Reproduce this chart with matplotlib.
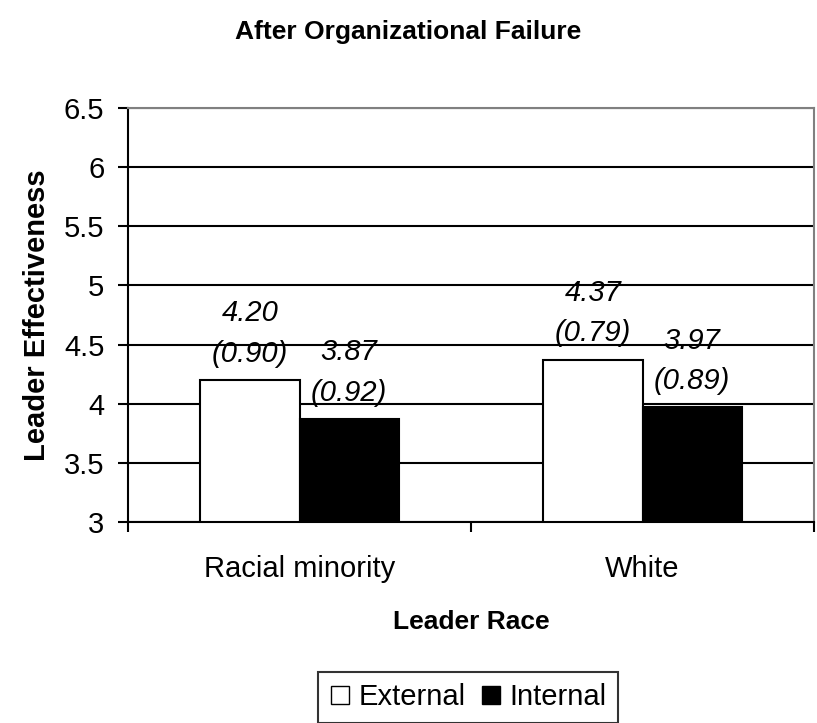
import matplotlib
matplotlib.use("Agg")
import matplotlib.pyplot as plt
from matplotlib.lines import Line2D
import numpy as np

plt.rcParams['font.family'] = ['Liberation Sans', 'DejaVu Sans']

categories = ["Racial minority", "White"]
series_names = ["External", "Internal"]
means = {"External": [4.20, 4.37], "Internal": [3.87, 3.97]}
sds = {"External": [0.90, 0.79], "Internal": [0.92, 0.89]}
colors = {"External": "white", "Internal": "black"}
yticks = [3, 3.5, 4, 4.5, 5, 5.5, 6, 6.5]

fig = plt.figure(figsize=(8.17, 7.23), dpi=100)
ax = fig.add_axes([128/817, 1-522/723, (814-128)/817, (522-108)/723])

x = np.arange(len(categories))
w = 0.29
for i, s in enumerate(series_names):
    pos = x + (i - 0.5) * w
    ax.bar(pos, [m - 3 for m in means[s]], bottom=3, width=w, color=colors[s],
           edgecolor="black", linewidth=1.5, zorder=3)
    for p, m, sd in zip(pos, means[s], sds[s]):
        ax.annotate(f"{m:.2f}\n({sd:.2f})", (p, m), xytext=(0, 9), textcoords="offset points",
                    ha="center", va="bottom", fontsize=21, fontstyle="italic",
                    linespacing=1.55, zorder=4)

ax.set_ylim(3, 6.5)
ax.set_xlim(-0.5, 1.5)
ax.set_yticks(yticks)
ax.set_yticklabels([f"{t:g}" for t in yticks], fontsize=21)
ax.yaxis.grid(True, color="black", linewidth=1.5, zorder=1)
ax.set_axisbelow(True)

ax.set_xticks([-0.5, 0.5, 1.5])
ax.set_xticklabels([])
ax.set_xticks(x, minor=True)
ax.set_xticklabels(categories, minor=True, fontsize=21)
ax.tick_params(axis="x", which="minor", length=0, pad=24)
ax.tick_params(axis="x", which="major", length=7, width=1.5, direction="out")
ax.tick_params(axis="y", length=7, width=1.5, direction="out", pad=10)

for sp in ["left", "bottom"]:
    ax.spines[sp].set_color("black")
    ax.spines[sp].set_linewidth(1.5)
for sp in ["top", "right"]:
    ax.spines[sp].set_color("#808080")
    ax.spines[sp].set_linewidth(1.5)

ax.set_ylabel("Leader Effectiveness", fontsize=21, fontweight="bold", labelpad=9)
ax.set_xlabel("Leader Race", fontsize=19, fontweight="bold", labelpad=19)

fig.text(0.5, 1-32/723, "After Organizational Failure", ha="center", va="center",
         fontsize=19, fontweight="bold")

handles = [Line2D([], [], linestyle="none", marker="s", markersize=13,
                  markerfacecolor=colors[s], markeredgecolor="black", markeredgewidth=1)
           for s in series_names]
leg = fig.legend(handles, series_names, loc="upper center", bbox_to_anchor=(468/817, 1-657/723),
                 ncol=2, fontsize=21, frameon=True, fancybox=False, edgecolor="black",
                 handlelength=0.7, handletextpad=0.3, columnspacing=0.5, borderpad=0.4)
leg.get_frame().set_linewidth(1.5)

fig.savefig("out.png", dpi=100)
